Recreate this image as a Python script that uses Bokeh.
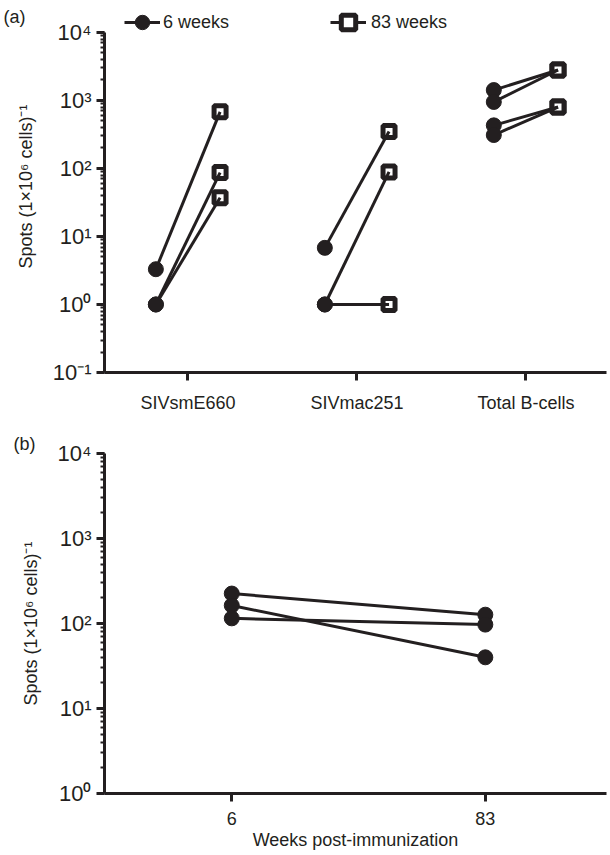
from bokeh.plotting import figure
from bokeh.layouts import column
from bokeh.models import (Range1d, FixedTicker, LogTicker, CustomJSTickFormatter,
                          Legend, LegendItem, LinearAxis)
from bokeh.embed import file_html
from bokeh.resources import INLINE

# ---------------- data ----------------
categories = ["SIVsmE660", "SIVmac251", "Total B-cells"]
# panel (a): paired values per animal, 6 weeks -> 83 weeks
smE660_w6 = [3.3, 1.0, 1.0]
smE660_w83 = [680, 87, 37]
mac251_w6 = [6.8, 1.0, 1.0]
mac251_w83 = [350, 89, 1.0]
totalB_w6 = [1420, 950, 430, 310]
totalB_w83 = [2800, 2800, 800, 800]
series_w6 = [smE660_w6, mac251_w6, totalB_w6]
series_w83 = [smE660_w83, mac251_w83, totalB_w83]
legend_labels = ["6 weeks", "83 weeks"]
panel_labels = ["(a)", "(b)"]

# panel (b)
weeks = [6, 83]
b_w6 = [225, 163, 115]
b_w83 = [127, 40, 97]
x_label_b = "Weeks post-immunization"
y_label = "Spots (1×10⁶ cells)⁻¹"

INK = "#231f20"
FONT = "Liberation Sans"
DODGE = 0.19

sup_js = """
const m = {"-":"\u207b","0":"\u2070","1":"\u00b9","2":"\u00b2","3":"\u00b3","4":"\u2074",
           "5":"\u2075","6":"\u2076","7":"\u2077","8":"\u2078","9":"\u2079"};
const e = Math.round(Math.log10(tick));
return "10" + String(e).split("").map(c => m[c]).join("");
"""


def style(p, bounds):
    p.outline_line_color = None
    p.xgrid.visible = False
    p.ygrid.visible = False
    p.background_fill_color = "white"
    for ax in (p.xaxis[0], p.yaxis[0]):
        ax.axis_line_width = 3
        ax.axis_line_color = INK
        ax.major_tick_line_width = 3
        ax.major_tick_line_color = INK
        ax.major_tick_in = 0
        ax.major_tick_out = 8
        ax.major_label_text_font = FONT
        ax.major_label_text_color = INK
        ax.axis_label_text_font = FONT
        ax.axis_label_text_font_size = "18px"
        ax.axis_label_text_font_style = "normal"
        ax.axis_label_text_color = INK
    p.xaxis.major_label_text_font_size = "18px"
    p.yaxis.major_label_text_font_size = "22px"
    p.xaxis.minor_tick_line_color = None
    p.yaxis.minor_tick_line_color = INK
    p.yaxis.minor_tick_line_width = 2
    p.yaxis.minor_tick_in = 0
    p.yaxis.minor_tick_out = 4
    p.yaxis.ticker = LogTicker(num_minor_ticks=10)
    p.yaxis.formatter = CustomJSTickFormatter(code=sup_js)
    p.yaxis.major_label_standoff = 5
    p.yaxis.axis_label = y_label
    p.yaxis.axis_label_standoff = 14
    p.yaxis.bounds = bounds


# ---------------- panel (a) ----------------
A_DEC = 68.2  # px per decade
A_FRAME_H = 373
p1 = figure(width=608, height=415, y_axis_type="log",
            x_range=Range1d(-0.494, 2.477),
            y_range=Range1d(0.1, 10 ** (4 + 32 / A_DEC)),
            output_backend="svg", toolbar_location=None,
            min_border_left=101, min_border_right=2, min_border_top=0, min_border_bottom=42)
style(p1, (0.1, 1e4))
p1.xaxis.ticker = FixedTicker(ticks=list(range(len(categories))))
p1.xaxis.major_label_overrides = {i: c for i, c in enumerate(categories)}
p1.xaxis.major_label_standoff = 12

xs_lines, ys_lines = [], []
cx6, cy6, cx83, cy83 = [], [], [], []
for i, (a6, a83) in enumerate(zip(series_w6, series_w83)):
    for v6, v83 in zip(a6, a83):
        xs_lines.append([i - DODGE, i + DODGE])
        ys_lines.append([v6, v83])
        cx6.append(i - DODGE)
        cy6.append(v6)
        cx83.append(i + DODGE)
        cy83.append(v83)

sq = p1.scatter(cx83, cy83, marker="square", size=12, fill_color="white",
                line_color=INK, line_width=5)
ln = p1.multi_line(xs_lines, ys_lines, line_color=INK, line_width=3)
ci = p1.scatter(cx6, cy6, marker="circle", size=15, fill_color=INK, line_color=INK, line_width=1)

leg1 = Legend(items=[LegendItem(label=legend_labels[0], renderers=[ln, ci])],
              location=(20, 332), label_standoff=3)
leg2 = Legend(items=[LegendItem(label=legend_labels[1], renderers=[ln, sq])],
              location=(226, 332), label_standoff=5)
for lg in (leg1, leg2):
    lg.padding = 0
    lg.margin = 0
    lg.spacing = 0
    lg.glyph_width = 36
    lg.glyph_height = 36
    lg.label_height = 20
    lg.label_text_font = FONT
    lg.label_text_font_size = "18px"
    lg.label_text_color = INK
    lg.border_line_color = None
    lg.background_fill_alpha = 0
    p1.add_layout(lg)

# "(a)" panel tag, drawn as the single label of a bare outer axis
p1.extra_y_ranges = {"tag": Range1d(0, A_FRAME_H)}
tag_ax = LinearAxis(y_range_name="tag", ticker=FixedTicker(ticks=[355]),
                    major_label_overrides={355: panel_labels[0]},
                    axis_line_color=None, major_tick_line_color=None,
                    minor_tick_line_color=None, major_tick_in=0, major_tick_out=0,
                    minor_tick_in=0, minor_tick_out=0, major_label_standoff=-13,
                    major_label_text_font=FONT, major_label_text_font_size="18px",
                    major_label_text_color=INK)
p1.add_layout(tag_ax, "left")

# ---------------- panel (b) ----------------
p2 = figure(width=608, height=440, y_axis_type="log",
            x_range=Range1d(-32.65, 119.8), y_range=Range1d(1, 1e4),
            output_backend="svg", toolbar_location=None,
            min_border_left=101, min_border_right=2, min_border_top=38, min_border_bottom=62)
style(p2, (1, 1e4))
p2.xaxis.ticker = FixedTicker(ticks=weeks)
p2.xaxis.major_label_standoff = 10
p2.xaxis.axis_label = x_label_b
p2.xaxis.axis_label_standoff = 2

p2.title.text = panel_labels[1]
p2.title.align = "left"
p2.title.offset = -91
p2.title.standoff = 0
p2.title.text_font = FONT
p2.title.text_font_size = "18px"
p2.title.text_font_style = "normal"
p2.title.text_color = INK

bxs = [[weeks[0], weeks[1]] for _ in b_w6]
bys = [[a, b] for a, b in zip(b_w6, b_w83)]
p2.multi_line(bxs, bys, line_color=INK, line_width=3)
p2.scatter([weeks[0]] * len(b_w6), b_w6, marker="circle", size=15,
           fill_color=INK, line_color=INK)
p2.scatter([weeks[1]] * len(b_w83), b_w83, marker="circle", size=15,
           fill_color=INK, line_color=INK)

layout = column(p1, p2, spacing=0)
open("out.html", "w").write(file_html(layout, INLINE))
